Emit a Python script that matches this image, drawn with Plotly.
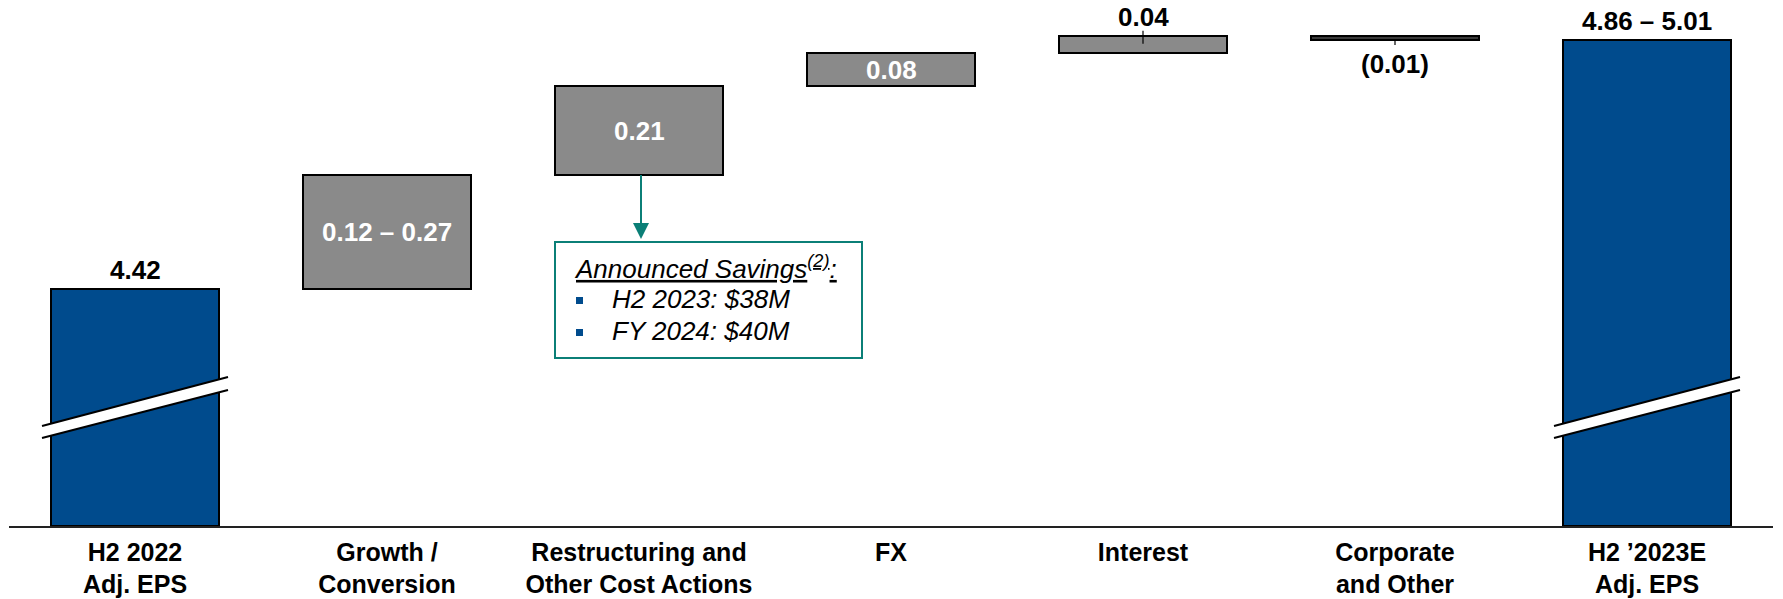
import plotly.graph_objects as go

# ---- data -------------------------------------------------------------
categories = [
    "H2 2022<br>Adj. EPS",
    "Growth /<br>Conversion",
    "Restructuring and<br>Other Cost Actions",
    "FX",
    "Interest",
    "Corporate<br>and Other",
    "H2 \u20192023E<br>Adj. EPS",
]
start_eps = 4.42
step_low = [0.12, 0.21, 0.08, 0.04, -0.01]   # low end of each bridge step
step_high = [0.27, 0.21, 0.08, 0.04, -0.01]  # high end of each bridge step
savings_lines = ["H2 2023: $38M", "FY 2024: $40M"]

# ---- styling ----------------------------------------------------------
W, H = 1783, 599
M_L, M_R, M_T, M_B = 9, 10, 0, 73
PLOT_W, PLOT_H = W - M_L - M_R, H - M_T - M_B
AXIS_FLOOR, AXIS_TOP = 3.858, 5.105          # truncated value axis
BLUE, GRAY, DARK, TEAL = "#004B8D", "#8A8A8A", "#3A3A3A", "#0B7F77"
FONT = "Liberation Sans, Arial, sans-serif"
FS_CAT, FS_VAL, FS_BOX = 25, 26, 26

# ---- derived bar geometry ----------------------------------------------
end_low = start_eps + sum(step_low)
end_high = start_eps + sum(step_high)

bases, heights, colors = [AXIS_FLOOR], [start_eps - AXIS_FLOOR], [BLUE]
level = start_eps
for d in step_high:
    bases.append(level)
    heights.append(d)
    colors.append(GRAY if d >= 0 else DARK)
    level += d
bases.append(AXIS_FLOOR)
heights.append(end_high - AXIS_FLOOR)
colors.append(BLUE)

def fmt(v):
    return f"({abs(v):.2f})" if v < 0 else f"{v:.2f}"

def fmt_range(lo, hi):
    return fmt(lo) if abs(lo - hi) < 1e-9 else f"{fmt(lo)} \u2013 {fmt(hi)}"

labels = [fmt(start_eps)]
labels += [fmt_range(lo, hi) for lo, hi in zip(step_low, step_high)]
labels.append(fmt_range(end_low, end_high))

# where each value label sits: inside the bar, above it, or below it
label_pos = ["above", "inside", "inside", "inside", "above", "below", "above"]

xs = list(range(len(categories)))

fig = go.Figure()
fig.add_trace(go.Bar(
    x=xs, y=heights, base=bases, width=0.667,
    marker=dict(color=colors, line=dict(color="#000000", width=2)),
    hoverinfo="skip", showlegend=False,
))

def px_x(px):
    return (px - M_L) / PLOT_W

def px_y(py):
    return (M_T + PLOT_H - py) / PLOT_H

annotations = []
for i, (txt, pos) in enumerate(zip(labels, label_pos)):
    lo, hi = bases[i], bases[i] + heights[i]
    top, bot = max(lo, hi), min(lo, hi)
    if pos == "inside":
        annotations.append(dict(x=i, y=(top + bot) / 2, text=txt, showarrow=False,
                                font=dict(family=FONT, size=FS_VAL, color="white", weight="bold"),
                                yanchor="middle"))
    elif pos == "above":
        annotations.append(dict(x=i, y=top, text=txt, showarrow=False, yshift=19,
                                font=dict(family=FONT, size=FS_VAL, color="black", weight="bold"),
                                yanchor="middle"))
    else:
        annotations.append(dict(x=i, y=bot, text=txt, showarrow=False, yshift=-24,
                                font=dict(family=FONT, size=FS_VAL, color="black", weight="bold"),
                                yanchor="middle"))

shapes = []
# short leader ticks joining small bars to their labels
for i, pos in enumerate(label_pos):
    if i in (0, len(xs) - 1) or pos == "inside":
        continue
    lo, hi = bases[i], bases[i] + heights[i]
    if pos == "above":
        shapes.append(dict(type="line", xref="x", yref="y", ysizemode="pixel",
                           yanchor=max(lo, hi), x0=i, x1=i, y0=5, y1=-8,
                           line=dict(color="#000000", width=1.2)))
    else:
        shapes.append(dict(type="line", xref="x", yref="y", ysizemode="pixel",
                           yanchor=min(lo, hi), x0=i, x1=i, y0=1, y1=-5,
                           line=dict(color="#000000", width=1.2)))

# axis-break marks across the two total bars
for i in (0, len(xs) - 1):
    shapes.append(dict(type="path", xref="x", yref="y", xsizemode="pixel", ysizemode="pixel",
                       xanchor=i, yanchor=AXIS_FLOOR,
                       path="M -93,100 L 93,149 L 93,136 L -93,88 Z",
                       fillcolor="white", line=dict(width=0), layer="above"))
    for (ya, yb) in ((100, 149), (88, 136)):
        shapes.append(dict(type="line", xref="x", yref="y", xsizemode="pixel", ysizemode="pixel",
                           xanchor=i, yanchor=AXIS_FLOOR, x0=-93, x1=93, y0=ya, y1=yb,
                           line=dict(color="#000000", width=2), layer="above"))

# arrow from the restructuring bar down to the savings callout
arrow_x = 2
shapes.append(dict(type="line", xref="x", yref="y", xsizemode="pixel", ysizemode="pixel",
                   xanchor=arrow_x, yanchor=bases[2],
                   x0=2, x1=2, y0=0, y1=-50,
                   line=dict(color=TEAL, width=2)))
shapes.append(dict(type="path", xref="x", yref="y", xsizemode="pixel", ysizemode="pixel",
                   xanchor=arrow_x, yanchor=bases[2],
                   path="M -6,-48 L 10,-48 L 2,-64 Z",
                   fillcolor=TEAL, line=dict(width=0)))

# savings callout box
shapes.append(dict(type="rect", xref="paper", yref="paper",
                   x0=px_x(555), x1=px_x(862), y0=px_y(358), y1=px_y(242),
                   fillcolor="white", line=dict(color=TEAL, width=2)))
annotations.append(dict(xref="paper", yref="paper", x=px_x(572), y=px_y(267),
                        xanchor="left", yanchor="middle", showarrow=False,
                        text="<i><u>Announced Savings<sup>(2)</sup>:</u></i>",
                        font=dict(family=FONT, size=FS_BOX, color="black")))
for k, line in enumerate(savings_lines):
    cy = 299 + 32 * k
    shapes.append(dict(type="rect", xref="paper", yref="paper",
                       x0=px_x(576), x1=px_x(583), y0=px_y(cy + 5), y1=px_y(cy - 2),
                       fillcolor=BLUE, line=dict(width=0)))
    annotations.append(dict(xref="paper", yref="paper", x=px_x(610), y=px_y(cy),
                            xanchor="left", yanchor="middle", showarrow=False,
                            text=f"<i>{line}</i>",
                            font=dict(family=FONT, size=FS_BOX, color="black")))

fig.update_layout(
    width=W, height=H,
    margin=dict(l=M_L, r=M_R, t=M_T, b=M_B, pad=0),
    paper_bgcolor="white", plot_bgcolor="white",
    bargap=0, showlegend=False,
    xaxis=dict(range=[-0.5, len(xs) - 0.5], tickvals=xs, ticktext=categories,
               tickfont=dict(family=FONT, size=FS_CAT, color="black", weight="bold"),
               ticklabelstandoff=3,
               showgrid=False, zeroline=False, showline=True,
               linecolor="#222222", linewidth=1.5, ticks="", fixedrange=True),
    yaxis=dict(range=[AXIS_FLOOR, AXIS_TOP], visible=False, fixedrange=True),
    shapes=shapes, annotations=annotations,
)

fig.write_html("out.html")
